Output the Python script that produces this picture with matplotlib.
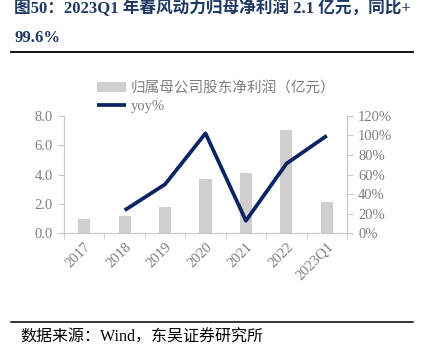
import matplotlib
matplotlib.use("Agg")
import matplotlib.pyplot as plt
from matplotlib.lines import Line2D
import numpy as np

categories = ["2017", "2018", "2019", "2020", "2021", "2022", "2023Q1"]
profit = [0.97, 1.20, 1.81, 3.67, 4.12, 7.03, 2.11]
yoy_cats = ["2018", "2019", "2020", "2021", "2022", "2023Q1"]
yoy = [23.5, 50.0, 102.0, 12.8, 71.0, 99.6]
left_ticks = [0.0, 2.0, 4.0, 6.0, 8.0]
right_ticks = [0, 20, 40, 60, 80, 100, 120]

W, H = 422, 357
fig = plt.figure(figsize=(W / 100, H / 100), dpi=100)

serif_cjk = ["Liberation Serif", "Noto Sans CJK SC"]
gray_txt = "#7f7f7f"
spine_c = "#c8c8c8"
navy = "#0b2462"
bar_c = "#d0cece"
title_c = "#1f3864"

ax = fig.add_axes([64 / W, 1 - 233.3 / H, (347 - 64) / W, (233.3 - 115.7) / H])
x = np.arange(len(categories))
bars = ax.bar(x, profit, width=0.3, color=bar_c, zorder=1,
              label="归属母公司股东净利润（亿元）")
ax.set_xlim(-0.5, len(categories) - 0.5)
ax.set_ylim(0, 8)
ax.set_yticks(left_ticks)
ax.set_yticklabels([f"{v:.1f}" for v in left_ticks], family=serif_cjk,
                   fontsize=10.5, color=gray_txt)
ax.set_xticks(x)
ax.set_xticklabels(categories, rotation=45, ha="right", rotation_mode="anchor",
                   family=serif_cjk, fontsize=10.5, color=gray_txt)
ax.tick_params(axis="x", which="major", length=0, pad=5)
ax.set_xticks(np.arange(-0.5, len(categories)), minor=True)
ax.tick_params(axis="x", which="minor", length=4, color=spine_c, direction="out")
ax.tick_params(axis="y", length=4, color=spine_c, direction="out", pad=4)
for s in ["top", "right"]:
    ax.spines[s].set_visible(False)
for s in ["left", "bottom"]:
    ax.spines[s].set_color(spine_c)
    ax.spines[s].set_linewidth(0.8)

ax2 = ax.twinx()
xi = [categories.index(c) for c in yoy_cats]
line, = ax2.plot(xi, yoy, color=navy, linewidth=2.7, zorder=3,
                 solid_capstyle="butt", label="yoy%")
ax2.set_ylim(0, 120)
ax2.set_yticks(right_ticks)
ax2.set_yticklabels([f"{v}%" for v in right_ticks], family=serif_cjk,
                    fontsize=10.5, color=gray_txt)
ax2.tick_params(axis="y", length=4, color=spine_c, direction="out", pad=4)
for s in ["top", "left", "bottom"]:
    ax2.spines[s].set_visible(False)
ax2.spines["right"].set_color(spine_c)
ax2.spines["right"].set_linewidth(0.8)

leg = fig.legend([bars, line], ["归属母公司股东净利润（亿元）", "yoy%"],
                 loc="upper left", bbox_to_anchor=(97 / W, 1 - 81 / H),
                 frameon=False, handlelength=2.0, handletextpad=0.3,
                 labelspacing=0.3, borderaxespad=0, borderpad=0,
                 prop={"family": serif_cjk, "size": 10.5})
for t in leg.get_texts():
    t.set_color(gray_txt)

# Title
fig.text(14 / W, 1 - 8 / H, "图50：2023Q1 年春风动力归母净利润 2.1 亿元，同比+",
         family=serif_cjk, fontsize=12, fontweight="bold", color=title_c,
         va="center", ha="left")
fig.text(14 / W, 1 - 38 / H, "99.6%",
         family=serif_cjk, fontsize=12, fontweight="bold", color=title_c,
         va="center", ha="left")
fig.add_artist(Line2D([11 / W, 413 / W], [1 - 52 / H, 1 - 52 / H],
                      transform=fig.transFigure, color="black", linewidth=1.3))
fig.add_artist(Line2D([11 / W, 413 / W], [1 - 321.5 / H, 1 - 321.5 / H],
                      transform=fig.transFigure, color="black", linewidth=1.1))
fig.text(20 / W, 1 - 338 / H, "数据来源：Wind，东吴证券研究所",
         family=serif_cjk, fontsize=11.5, color="black", va="center", ha="left")

fig.savefig("out.png", dpi=100)
